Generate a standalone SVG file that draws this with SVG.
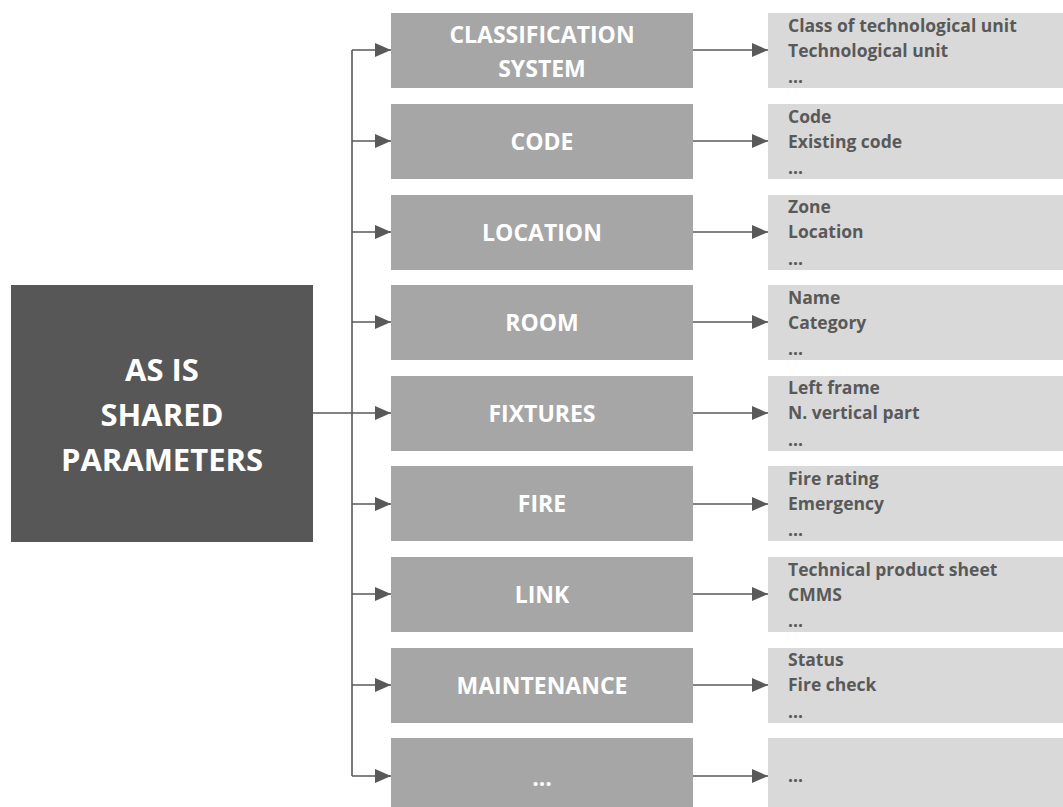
<svg xmlns="http://www.w3.org/2000/svg" width="1063" height="807" viewBox="0 0 1063 807">
<style>
.main{fill:#575757}
.mid{fill:#a6a6a6}
.det{fill:#d9d9d9}
.mt{font-family:"Open Sans","Liberation Sans",sans-serif;font-weight:700;fill:#ffffff;text-anchor:middle}
.dt{font-family:"Open Sans","Liberation Sans",sans-serif;font-weight:700;fill:#595959;font-size:17.5px}
.ln{stroke:#595959;stroke-width:1.6;fill:none}
</style>
<defs>
<marker id="ah2" viewBox="0 0 10 10" refX="10" refY="5" markerWidth="16" markerHeight="14" markerUnits="userSpaceOnUse" orient="auto" preserveAspectRatio="none">
<path d="M0,0 L10,5 L0,10 z" fill="#595959"/>
</marker>
</defs>
<rect width="1063" height="807" fill="#ffffff"/>
<g id="connectors">
<path class="ln" d="M313,413 H352"/>
<path class="ln" d="M352,50 V776"/>
<path class="ln" d="M352,50 H391" marker-end="url(#ah2)"/>
<path class="ln" d="M352,141 H391" marker-end="url(#ah2)"/>
<path class="ln" d="M352,232 H391" marker-end="url(#ah2)"/>
<path class="ln" d="M352,322 H391" marker-end="url(#ah2)"/>
<path class="ln" d="M352,413 H391" marker-end="url(#ah2)"/>
<path class="ln" d="M352,504 H391" marker-end="url(#ah2)"/>
<path class="ln" d="M352,594 H391" marker-end="url(#ah2)"/>
<path class="ln" d="M352,685 H391" marker-end="url(#ah2)"/>
<path class="ln" d="M352,776 H391" marker-end="url(#ah2)"/>
<path class="ln" d="M693,50 H768" marker-end="url(#ah2)"/>
<path class="ln" d="M693,141 H768" marker-end="url(#ah2)"/>
<path class="ln" d="M693,232 H768" marker-end="url(#ah2)"/>
<path class="ln" d="M693,322 H768" marker-end="url(#ah2)"/>
<path class="ln" d="M693,413 H768" marker-end="url(#ah2)"/>
<path class="ln" d="M693,504 H768" marker-end="url(#ah2)"/>
<path class="ln" d="M693,594 H768" marker-end="url(#ah2)"/>
<path class="ln" d="M693,685 H768" marker-end="url(#ah2)"/>
<path class="ln" d="M693,776 H768" marker-end="url(#ah2)"/>
</g>
<g id="root">
<rect class="main" x="11" y="285" width="302" height="257"/>
<text class="mt" font-size="31" x="162" y="381">AS IS</text>
<text class="mt" font-size="31" x="162" y="426">SHARED</text>
<text class="mt" font-size="31" x="162" y="471">PARAMETERS</text>
</g>
<g id="n-classification">
<rect class="mid" x="391" y="13" width="302" height="75"/>
<text class="mt" font-size="23" x="542" y="43">CLASSIFICATION</text>
<text class="mt" font-size="23" x="542" y="77">SYSTEM</text>
</g>
<g id="n-code">
<rect class="mid" x="391" y="104" width="302" height="75"/>
<text class="mt" font-size="23" x="542" y="150">CODE</text>
</g>
<g id="n-location">
<rect class="mid" x="391" y="195" width="302" height="75"/>
<text class="mt" font-size="23" x="542" y="241">LOCATION</text>
</g>
<g id="n-room">
<rect class="mid" x="391" y="285" width="302" height="75"/>
<text class="mt" font-size="23" x="542" y="331">ROOM</text>
</g>
<g id="n-fixtures">
<rect class="mid" x="391" y="376" width="302" height="75"/>
<text class="mt" font-size="23" x="542" y="422">FIXTURES</text>
</g>
<g id="n-fire">
<rect class="mid" x="391" y="466" width="302" height="75"/>
<text class="mt" font-size="23" x="542" y="512">FIRE</text>
</g>
<g id="n-link">
<rect class="mid" x="391" y="557" width="302" height="75"/>
<text class="mt" font-size="23" x="542" y="603">LINK</text>
</g>
<g id="n-maintenance">
<rect class="mid" x="391" y="648" width="302" height="75"/>
<text class="mt" font-size="23" x="542" y="694">MAINTENANCE</text>
</g>
<g id="n-more">
<rect class="mid" x="391" y="738" width="302" height="75"/>
<text class="mt" font-size="23" x="542" y="786">...</text>
</g>
<g id="d-classification">
<rect class="det" x="768" y="13" width="295" height="75"/>
<text class="dt" x="788" y="32">Class of technological unit</text>
<text class="dt" x="788" y="57">Technological unit</text>
<text class="dt" x="788" y="83">...</text>
</g>
<g id="d-code">
<rect class="det" x="768" y="104" width="295" height="75"/>
<text class="dt" x="788" y="123">Code</text>
<text class="dt" x="788" y="148">Existing code</text>
<text class="dt" x="788" y="174">...</text>
</g>
<g id="d-location">
<rect class="det" x="768" y="195" width="295" height="75"/>
<text class="dt" x="788" y="213">Zone</text>
<text class="dt" x="788" y="238">Location</text>
<text class="dt" x="788" y="265">...</text>
</g>
<g id="d-room">
<rect class="det" x="768" y="285" width="295" height="75"/>
<text class="dt" x="788" y="304">Name</text>
<text class="dt" x="788" y="329">Category</text>
<text class="dt" x="788" y="355">...</text>
</g>
<g id="d-fixtures">
<rect class="det" x="768" y="376" width="295" height="75"/>
<text class="dt" x="788" y="394">Left frame</text>
<text class="dt" x="788" y="419">N. vertical part</text>
<text class="dt" x="788" y="446">...</text>
</g>
<g id="d-fire">
<rect class="det" x="768" y="466" width="295" height="75"/>
<text class="dt" x="788" y="485">Fire rating</text>
<text class="dt" x="788" y="510">Emergency</text>
<text class="dt" x="788" y="536">...</text>
</g>
<g id="d-link">
<rect class="det" x="768" y="557" width="295" height="75"/>
<text class="dt" x="788" y="576">Technical product sheet</text>
<text class="dt" x="788" y="601">CMMS</text>
<text class="dt" x="788" y="627">...</text>
</g>
<g id="d-maintenance">
<rect class="det" x="768" y="648" width="295" height="75"/>
<text class="dt" x="788" y="666">Status</text>
<text class="dt" x="788" y="691">Fire check</text>
<text class="dt" x="788" y="718">...</text>
</g>
<g id="d-more">
<rect class="det" x="768" y="738" width="295" height="75"/>
<text class="dt" x="788" y="782">...</text>
</g>
</svg>
